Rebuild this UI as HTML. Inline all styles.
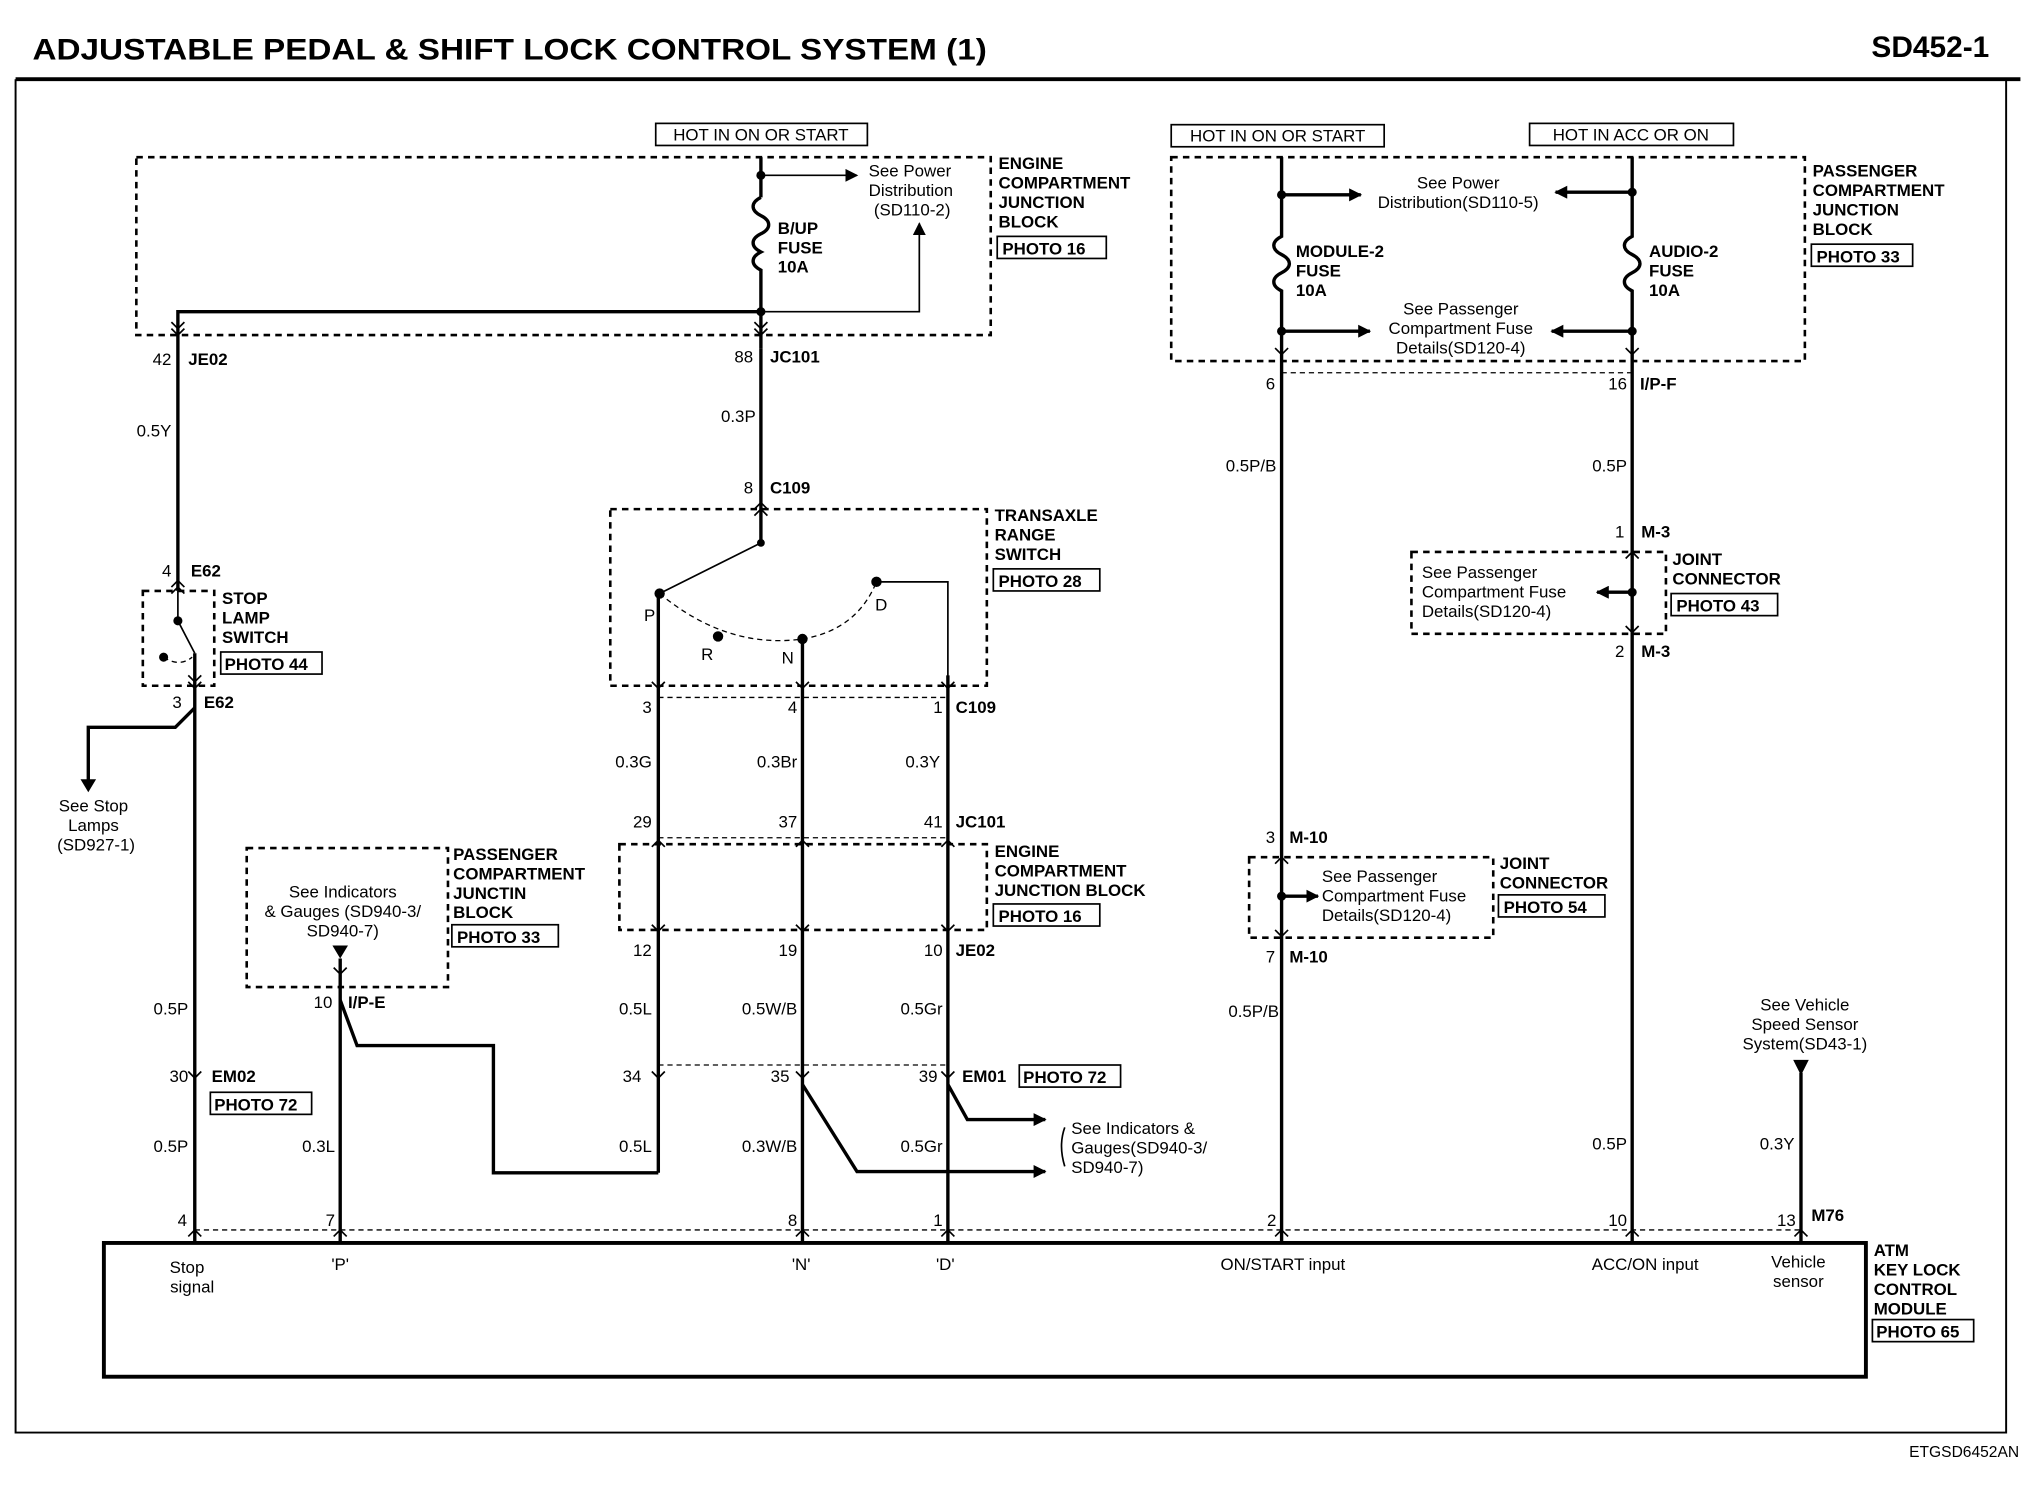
<!DOCTYPE html>
<html><head><meta charset="utf-8"><style>
html,body{margin:0;padding:0;background:#fff;}
svg{display:block;}
text{font-family:"Liberation Sans",sans-serif;fill:#000;font-size:13px;}
.b{font-weight:bold;}
.w{stroke:#000;stroke-width:2.6;fill:none;}
.t{stroke:#000;stroke-width:1.3;fill:none;}
.d{stroke:#000;stroke-width:2;fill:none;stroke-dasharray:5,4;}
.dl{stroke:#000;stroke-width:1;fill:none;stroke-dasharray:4,3;}
.bx{stroke:#000;stroke-width:1.3;fill:none;}
</style></head><body>
<svg width="2036" height="1504" viewBox="0 0 1568 1158" preserveAspectRatio="none" xmlns="http://www.w3.org/2000/svg">
<defs>
<marker id="a" markerWidth="10" markerHeight="10" refX="9" refY="5" orient="auto" markerUnits="userSpaceOnUse"><path d="M0,0 L10,5 L0,10 z" fill="#000"/></marker>
</defs>
<!-- title -->
<text x="25" y="46" class="b" style="font-size:23px" textLength="735" lengthAdjust="spacingAndGlyphs">ADJUSTABLE PEDAL &amp; SHIFT LOCK CONTROL SYSTEM (1)</text>
<text x="1532" y="44" class="b" style="font-size:23px" text-anchor="end">SD452-1</text>
<line x1="12" y1="61" x2="1556" y2="61" stroke="#000" stroke-width="3"/>
<path d="M12,61 V1103 H1545 V61" stroke="#000" stroke-width="1.5" fill="none"/>
<text x="1555" y="1122" text-anchor="end" style="font-size:12px">ETGSD6452AN</text>

<!-- module -->
<rect x="80" y="957" width="1357" height="103" fill="none" stroke="#000" stroke-width="3"/>
<line class="dl" x1="150" y1="947" x2="1387" y2="947"/>
<text x="144" y="980" text-anchor="middle">Stop</text><text x="148" y="995" text-anchor="middle">signal</text>
<text x="262" y="978" text-anchor="middle">'P'</text>
<text x="617" y="978" text-anchor="middle">'N'</text>
<text x="728" y="978" text-anchor="middle">'D'</text>
<text x="988" y="978" text-anchor="middle">ON/START input</text>
<text x="1267" y="978" text-anchor="middle">ACC/ON input</text>
<text x="1385" y="976" text-anchor="middle">Vehicle</text><text x="1385" y="991" text-anchor="middle">sensor</text>
<text x="1443" y="967" class="b">ATM</text><text x="1443" y="982" class="b">KEY LOCK</text><text x="1443" y="997" class="b">CONTROL</text><text x="1443" y="1012" class="b">MODULE</text>
<rect class="bx" x="1442" y="1016" width="78" height="17"/><text x="1445" y="1030" class="b">PHOTO 65</text>
<text x="144" y="944" text-anchor="end">4</text><text x="258" y="944" text-anchor="end">7</text><text x="614" y="944" text-anchor="end">8</text><text x="726" y="944" text-anchor="end">1</text><text x="983" y="944" text-anchor="end">2</text><text x="1253" y="944" text-anchor="end">10</text><text x="1383" y="944" text-anchor="end">13</text><text x="1395" y="940" class="b">M76</text>

<!-- hot boxes -->
<rect class="bx" x="505" y="95" width="163" height="17"/><text x="586" y="108" text-anchor="middle">HOT IN ON OR START</text>
<rect class="bx" x="902" y="96" width="164" height="17"/><text x="984" y="109" text-anchor="middle">HOT IN ON OR START</text>
<rect class="bx" x="1178" y="95" width="157" height="17"/><text x="1256" y="108" text-anchor="middle">HOT IN ACC OR ON</text>

<!-- engine compartment JB top -->
<rect class="d" x="105" y="121" width="658" height="137"/>
<text x="769" y="130" class="b">ENGINE</text><text x="769" y="145" class="b">COMPARTMENT</text><text x="769" y="160" class="b">JUNCTION</text><text x="769" y="175" class="b">BLOCK</text>
<rect class="bx" x="768" y="182" width="84" height="17"/><text x="772" y="196" class="b">PHOTO 16</text>
<path class="w" d="M586,121 V152"/>
<path class="w" d="M586,152 c-8,4 -8,10 0,14 c8,4 8,10 0,14 c-8,4 -8,10 0,14 c-8,4 -8,10 0,14 V268"/>
<circle cx="586" cy="135" r="3.5"/><circle cx="586" cy="240" r="3.5"/>
<path class="t" d="M586,135 H660" marker-end="url(#a)"/>
<path class="t" d="M586,240 H708 V172" marker-end="url(#a)"/>
<text x="669" y="136">See Power</text><text x="669" y="151">Distribution</text><text x="673" y="166">(SD110-2)</text>
<text x="599" y="180" class="b">B/UP</text><text x="599" y="195" class="b">FUSE</text><text x="599" y="210" class="b">10A</text>
<path class="w" d="M586,240 H137 V440"/>
<text x="132" y="281" text-anchor="end">42</text><text x="145" y="281" class="b">JE02</text>
<text x="580" y="279" text-anchor="end">88</text><text x="593" y="279" class="b">JC101</text>
<text x="132" y="336" text-anchor="end">0.5Y</text>
<text x="582" y="325" text-anchor="end">0.3P</text>
<path class="w" d="M586,268 V418"/>
<text x="580" y="380" text-anchor="end">8</text><text x="593" y="380" class="b">C109</text>

<!-- stop lamp switch -->
<text x="132" y="444" text-anchor="end">4</text><text x="147" y="444" class="b">E62</text>
<rect class="d" x="110" y="455" width="55" height="73"/>
<path class="w" d="M137,440 V455"/>
<path class="t" d="M137,455 V478 L150,503"/>
<circle cx="137" cy="478" r="3.5"/><circle cx="126" cy="506" r="3.5"/>
<path class="dl" d="M126,506 Q138,514 148,506"/>
<path class="w" d="M150,503 V957"/>
<text x="171" y="465" class="b">STOP</text><text x="171" y="480" class="b">LAMP</text><text x="171" y="495" class="b">SWITCH</text>
<rect class="bx" x="170" y="502" width="78" height="17"/><text x="173" y="516" class="b">PHOTO 44</text>
<text x="140" y="545" text-anchor="end">3</text><text x="157" y="545" class="b">E62</text>
<path class="w" d="M150,545 L135,560 H68 V602"/><path d="M62,600 L74,600 L68,610z"/>
<text x="72" y="625" text-anchor="middle">See Stop</text><text x="72" y="640" text-anchor="middle">Lamps</text><text x="74" y="655" text-anchor="middle">(SD927-1)</text>
<text x="145" y="781" text-anchor="end">0.5P</text>
<text x="145" y="833" text-anchor="end">30</text><text x="163" y="833" class="b">EM02</text>
<rect class="bx" x="162" y="841" width="78" height="17"/><text x="165" y="855" class="b">PHOTO 72</text>
<text x="145" y="887" text-anchor="end">0.5P</text>

<!-- transaxle range switch -->
<rect class="d" x="470" y="392" width="290" height="136"/>
<text x="766" y="401" class="b">TRANSAXLE</text><text x="766" y="416" class="b">RANGE</text><text x="766" y="431" class="b">SWITCH</text>
<rect class="bx" x="765" y="438" width="82" height="17"/><text x="769" y="452" class="b">PHOTO 28</text>
<path class="t" d="M586,418 L508,457"/><circle cx="586" cy="418" r="3"/>
<path class="dl" d="M508,457 Q560,500 618,492 Q660,485 675,448"/>
<circle cx="508" cy="457" r="4"/><circle cx="553" cy="490" r="4"/><circle cx="618" cy="492" r="4"/><circle cx="675" cy="448" r="4"/>
<path class="t" d="M675,448 H730 V530"/>
<text x="496" y="478">P</text><text x="540" y="508">R</text><text x="602" y="511">N</text><text x="674" y="470">D</text>
<path class="w" d="M507,457 V903 M618,492 V957 M730,520 V957"/>
<line class="dl" x1="507" y1="537" x2="730" y2="537"/>
<text x="502" y="549" text-anchor="end">3</text><text x="614" y="549" text-anchor="end">4</text><text x="726" y="549" text-anchor="end">1</text><text x="736" y="549" class="b">C109</text>
<text x="502" y="591" text-anchor="end">0.3G</text><text x="614" y="591" text-anchor="end">0.3Br</text><text x="724" y="591" text-anchor="end">0.3Y</text>
<line class="dl" x1="507" y1="645" x2="730" y2="645"/>
<text x="502" y="637" text-anchor="end">29</text><text x="614" y="637" text-anchor="end">37</text><text x="726" y="637" text-anchor="end">41</text><text x="736" y="637" class="b">JC101</text>
<rect class="d" x="477" y="650" width="283" height="66"/>
<text x="766" y="660" class="b">ENGINE</text><text x="766" y="675" class="b">COMPARTMENT</text><text x="766" y="690" class="b">JUNCTION BLOCK</text>
<rect class="bx" x="765" y="696" width="82" height="17"/><text x="769" y="710" class="b">PHOTO 16</text>
<text x="502" y="736" text-anchor="end">12</text><text x="614" y="736" text-anchor="end">19</text><text x="726" y="736" text-anchor="end">10</text><text x="736" y="736" class="b">JE02</text>
<text x="502" y="781" text-anchor="end">0.5L</text><text x="614" y="781" text-anchor="end">0.5W/B</text><text x="726" y="781" text-anchor="end">0.5Gr</text>
<line class="dl" x1="507" y1="820" x2="730" y2="820"/>
<text x="494" y="833" text-anchor="end">34</text><text x="608" y="833" text-anchor="end">35</text><text x="722" y="833" text-anchor="end">39</text><text x="741" y="833" class="b">EM01</text>
<rect class="bx" x="785" y="820" width="78" height="17"/><text x="788" y="834" class="b">PHOTO 72</text>
<text x="502" y="887" text-anchor="end">0.5L</text><text x="614" y="887" text-anchor="end">0.3W/B</text><text x="726" y="887" text-anchor="end">0.5Gr</text>
<path class="w" d="M618,835 L660,902 H805" marker-end="url(#a)"/>
<path class="w" d="M730,835 L745,862 H805" marker-end="url(#a)"/>
<path class="t" d="M820,868 Q815,882 820,898"/>
<text x="825" y="873">See Indicators &amp;</text><text x="825" y="888">Gauges(SD940-3/</text><text x="825" y="903">SD940-7)</text>

<!-- passenger compartment left -->
<rect class="d" x="190" y="653" width="155" height="107"/>
<text x="264" y="691" text-anchor="middle">See Indicators</text><text x="264" y="706" text-anchor="middle">&amp; Gauges (SD940-3/</text><text x="264" y="721" text-anchor="middle">SD940-7)</text>
<path d="M256,728 L268,728 L262,738z"/>
<text x="349" y="662" class="b">PASSENGER</text><text x="349" y="677" class="b">COMPARTMENT</text><text x="349" y="692" class="b">JUNCTIN</text><text x="349" y="707" class="b">BLOCK</text>
<rect class="bx" x="348" y="712" width="82" height="17"/><text x="352" y="726" class="b">PHOTO 33</text>
<text x="256" y="776" text-anchor="end">10</text><text x="268" y="776" class="b">I/P-E</text>
<path class="w" d="M262,738 V957"/>
<path class="w" d="M262,770 L275,805 H380 V903 H507"/>
<text x="258" y="887" text-anchor="end">0.3L</text>

<!-- right JB -->
<rect class="d" x="902" y="121" width="488" height="157"/>
<text x="1396" y="136" class="b">PASSENGER</text><text x="1396" y="151" class="b">COMPARTMENT</text><text x="1396" y="166" class="b">JUNCTION</text><text x="1396" y="181" class="b">BLOCK</text>
<rect class="bx" x="1395" y="188" width="78" height="17"/><text x="1399" y="202" class="b">PHOTO 33</text>
<path class="w" d="M987,121 V182 c-8,4 -8,10 0,14 c8,4 8,10 0,14 c-8,4 -8,10 0,14 V957"/>
<path class="w" d="M1257,121 V182 c-8,4 -8,10 0,14 c8,4 8,10 0,14 c-8,4 -8,10 0,14 V957"/>
<circle cx="987" cy="150" r="3.5"/><circle cx="1257" cy="148" r="3.5"/><circle cx="987" cy="255" r="3.5"/><circle cx="1257" cy="255" r="3.5"/>
<path class="w" d="M987,150 H1048" marker-end="url(#a)"/>
<path class="w" d="M1257,148 H1198" marker-end="url(#a)"/>
<path class="w" d="M987,255 H1055" marker-end="url(#a)"/>
<path class="w" d="M1257,255 H1195" marker-end="url(#a)"/>
<text x="1123" y="145" text-anchor="middle">See Power</text><text x="1123" y="160" text-anchor="middle">Distribution(SD110-5)</text>
<text x="1125" y="242" text-anchor="middle">See Passenger</text><text x="1125" y="257" text-anchor="middle">Compartment Fuse</text><text x="1125" y="272" text-anchor="middle">Details(SD120-4)</text>
<text x="998" y="198" class="b">MODULE-2</text><text x="998" y="213" class="b">FUSE</text><text x="998" y="228" class="b">10A</text>
<text x="1270" y="198" class="b">AUDIO-2</text><text x="1270" y="213" class="b">FUSE</text><text x="1270" y="228" class="b">10A</text>
<line class="dl" x1="987" y1="287" x2="1257" y2="287"/>
<text x="982" y="300" text-anchor="end">6</text><text x="1253" y="300" text-anchor="end">16</text><text x="1263" y="300" class="b">I/P-F</text>
<text x="983" y="363" text-anchor="end">0.5P/B</text><text x="1253" y="363" text-anchor="end">0.5P</text>
<!-- M-3 -->
<text x="1251" y="414" text-anchor="end">1</text><text x="1264" y="414" class="b">M-3</text>
<rect class="d" x="1087" y="425" width="196" height="63"/>
<circle cx="1257" cy="456" r="3.5"/><path class="w" d="M1257,456 H1230" marker-end="url(#a)"/>
<text x="1095" y="445">See Passenger</text><text x="1095" y="460">Compartment Fuse</text><text x="1095" y="475">Details(SD120-4)</text>
<text x="1288" y="435" class="b">JOINT</text><text x="1288" y="450" class="b">CONNECTOR</text>
<rect class="bx" x="1287" y="457" width="82" height="17"/><text x="1291" y="471" class="b">PHOTO 43</text>
<text x="1251" y="506" text-anchor="end">2</text><text x="1264" y="506" class="b">M-3</text>
<!-- M-10 -->
<text x="982" y="649" text-anchor="end">3</text><text x="993" y="649" class="b">M-10</text>
<rect class="d" x="962" y="660" width="188" height="62"/>
<circle cx="987" cy="690" r="3.5"/><path class="w" d="M987,690 H1015" marker-end="url(#a)"/>
<text x="1018" y="679">See Passenger</text><text x="1018" y="694">Compartment Fuse</text><text x="1018" y="709">Details(SD120-4)</text>
<text x="1155" y="669" class="b">JOINT</text><text x="1155" y="684" class="b">CONNECTOR</text>
<rect class="bx" x="1154" y="689" width="82" height="17"/><text x="1158" y="703" class="b">PHOTO 54</text>
<text x="982" y="741" text-anchor="end">7</text><text x="993" y="741" class="b">M-10</text>
<text x="985" y="783" text-anchor="end">0.5P/B</text>
<text x="1253" y="885" text-anchor="end">0.5P</text>
<!-- vehicle speed -->
<text x="1390" y="778" text-anchor="middle">See Vehicle</text><text x="1390" y="793" text-anchor="middle">Speed Sensor</text><text x="1390" y="808" text-anchor="middle">System(SD43-1)</text>
<path d="M1381,816 L1393,816 L1387,828z"/>
<path class="w" d="M1387,826 V957"/>
<text x="1382" y="885" text-anchor="end">0.3Y</text>
<!-- connector chevrons -->
<g class="t">
<path d="M132,248 l5,5 l5,-5 M132,253 l5,5 l5,-5"/>
<path d="M581,248 l5,5 l5,-5 M581,253 l5,5 l5,-5"/>
<path d="M581,392 l5,-5 l5,5 M581,397 l5,-5 l5,5"/>
<path d="M132,452 l5,-5 l5,5 M132,457 l5,-5 l5,5"/>
<path d="M145,520 l5,5 l5,-5 M145,525 l5,5 l5,-5"/>
<path d="M502,525 l5,5 l5,-5 M613,525 l5,5 l5,-5 M725,525 l5,5 l5,-5"/>
<path d="M502,652 l5,-5 l5,5 M613,652 l5,-5 l5,5 M725,652 l5,-5 l5,5"/>
<path d="M502,712 l5,5 l5,-5 M613,712 l5,5 l5,-5 M725,712 l5,5 l5,-5"/>
<path d="M502,825 l5,5 l5,-5 M613,825 l5,5 l5,-5 M725,825 l5,5 l5,-5 M145,825 l5,5 l5,-5"/>
<path d="M145,952 l5,-5 l5,5 M257,952 l5,-5 l5,5 M613,952 l5,-5 l5,5 M725,952 l5,-5 l5,5 M982,952 l5,-5 l5,5 M1252,952 l5,-5 l5,5 M1382,952 l5,-5 l5,5"/>
<path d="M257,745 l5,5 l5,-5"/>
<path d="M982,268 l5,5 l5,-5 M1252,268 l5,5 l5,-5"/>
<path d="M1252,430 l5,-5 l5,5 M1252,482 l5,5 l5,-5"/>
<path d="M982,665 l5,-5 l5,5 M982,716 l5,5 l5,-5"/>
</g>
</svg>
</body></html>
